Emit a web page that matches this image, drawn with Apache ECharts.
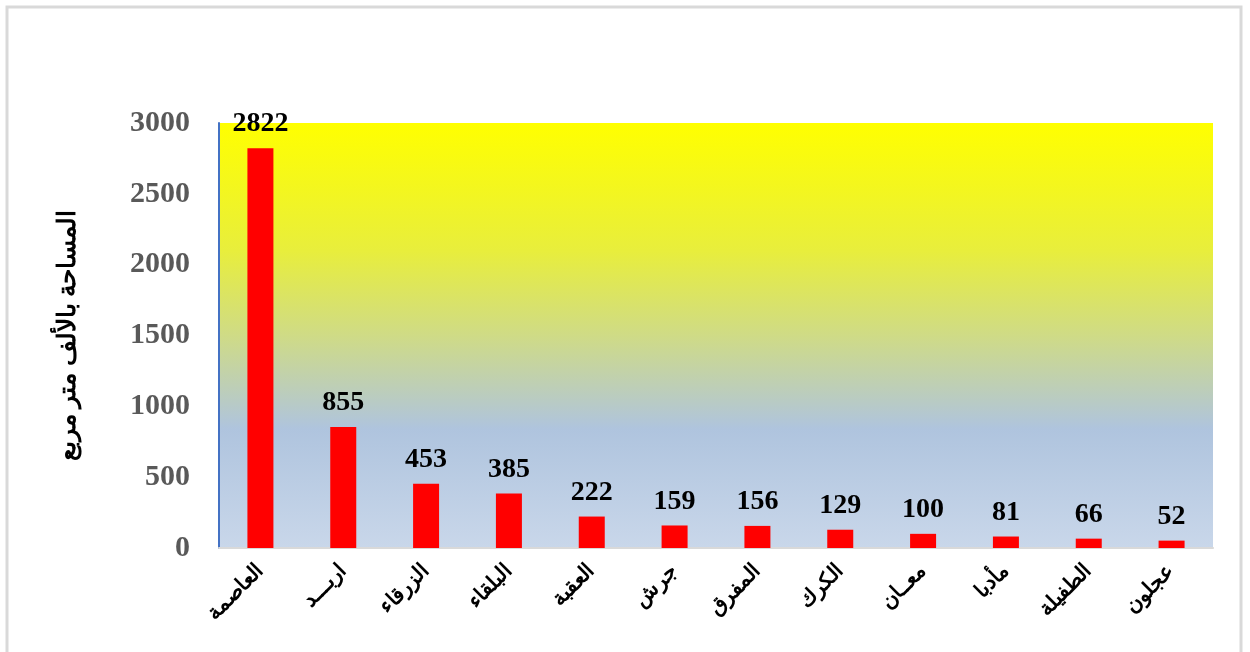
<!DOCTYPE html>
<html>
<head>
<meta charset="utf-8">
<script src="https://cdn.jsdelivr.net/npm/echarts@6/dist/echarts.min.js"></script>
<style>
  html, body { margin: 0; padding: 0; background: #fff; }
  #chart { width: 1250px; height: 652px; }
</style>
</head>
<body>
<div id="chart"></div>
<script>
var categories = ['العاصمة', 'اربـــد', 'الزرقاء', 'البلقاء', 'العقبة', 'جرش', 'المفرق', 'الكرك', 'معــان', 'مأدبا', 'الطفيلة', 'عجلون'];
var areas = [2822, 855, 453, 385, 222, 159, 156, 129, 100, 81, 66, 52];
var yTitle = 'المساحة بالألف متر مربع';

var dom = document.getElementById('chart');
var myChart = echarts.init(dom);

var serif = "'Liberation Serif', 'Times New Roman', serif";

var option = {
    animation: false,
    graphic: [
        {
            type: 'rect',
            shape: { x: 7, y: 7, width: 1234, height: 660 },
            style: { fill: 'none', stroke: '#d9d9d9', lineWidth: 3 },
            silent: true
        }
    ],
    grid: {
        left: 219,
        right: 37,
        top: 123,
        bottom: 104,
        show: true,
        borderWidth: 0,
        backgroundColor: new echarts.graphic.LinearGradient(0, 0, 0, 1, [
            { offset: 0, color: '#ffff00' },
            { offset: 0.3, color: '#e8ee3c' },
            { offset: 0.5, color: '#cfdb86' },
            { offset: 0.72, color: '#afc4de' },
            { offset: 1, color: '#c9d7ea' }
        ])
    },
    xAxis: {
        type: 'category',
        data: categories,
        axisLine: { lineStyle: { color: '#d9d9d9', width: 2 } },
        axisTick: { show: false },
        axisLabel: {
            interval: 0,
            rotate: 45,
            margin: 20,
            fontSize: 21,
            fontWeight: 'bold',
            color: '#000',
            fontFamily: serif
        }
    },
    yAxis: {
        type: 'value',
        min: 0,
        max: 3000,
        interval: 500,
        name: yTitle,
        nameLocation: 'middle',
        nameRotate: 90,
        nameGap: 138,
        nameTextStyle: {
            fontSize: 25,
            fontWeight: 'bold',
            color: '#000',
            fontFamily: serif
        },
        axisLine: { show: true, lineStyle: { color: '#4472c4', width: 2 } },
        axisTick: { show: false },
        splitLine: { show: false },
        axisLabel: {
            margin: 29,
            fontSize: 30,
            fontWeight: 'bold',
            color: '#595959',
            fontFamily: serif,
            formatter: function (v) { return String(v); }
        }
    },
    series: [
        {
            type: 'bar',
            data: areas,
            barWidth: 26,
            itemStyle: { color: '#ff0000' },
            label: {
                show: true,
                position: 'top',
                distance: 10,
                fontSize: 28,
                fontWeight: 'bold',
                color: '#000',
                fontFamily: serif
            }
        }
    ]
};

if (option && typeof option === 'object') {
    myChart.setOption(option);
}

window.addEventListener('resize', myChart.resize);
</script>
</body>
</html>
